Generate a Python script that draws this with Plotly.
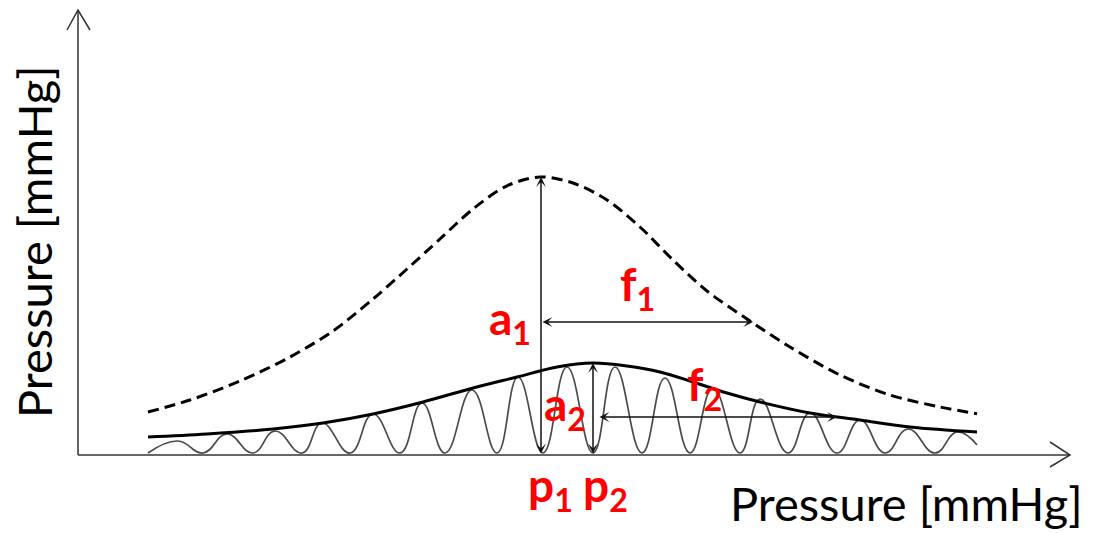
import plotly.graph_objects as go

# Cuff pressure samples (mmHg) and the two envelopes
dashed_x = [14, 22.4, 32.4, 42.4, 51, 59, 65.8, 72.4, 79, 85.8, 92.4, 99, 105.8,
            112.4, 119, 125.8, 134.4, 142.4, 152.4, 162.4, 172.4, 179.8]
dashed_y = [10.75, 13.75, 18.5, 24.5, 31, 39, 46.5, 54, 61.5, 67.3, 69.5, 68,
            63.75, 57, 48.75, 41, 33.5, 27, 20, 15, 12, 10.3]

envelope_x = [14, 25.8, 39, 49, 59, 69, 79, 87.8, 95.8, 103, 109.8, 116.4, 123,
              129.8, 136.4, 146.4, 156.4, 166.4, 179.8]
envelope_y = [4.5, 5.25, 6.5, 8, 10.25, 13.25, 16.75, 19.5, 22, 23, 22.25, 20.75,
              18.25, 15.5, 13.25, 10.5, 8.75, 7, 5.75]

# Oscillation extrema (alternating troughs and peaks)
osc_x = [14, 20, 25, 29.8, 35, 39.4, 44.8, 48.8, 54.4, 59, 64.4, 68.8, 73.4, 78.8,
         83.8, 88, 93, 97.8, 103, 107.4, 112.8, 117.4, 122.4, 127, 132.4, 136.4,
         142, 146.4, 151.8, 156.4, 161.4, 166, 171.4, 175.8, 179.8]
osc_y = [0.5, 3.5, 0.5, 5.25, 0.5, 6, 0.5, 8, 0.5, 10.25, 0.5, 13, 0.5, 16.25,
         0.5, 19.5, 0.5, 22, 0.5, 22, 0.5, 19.25, 0.5, 16.75, 0.5, 14, 0.5, 10.5,
         0.5, 8.75, 0.5, 6.5, 0.5, 5.75, 2.5]

# Characteristic points
p1, a1 = 92.6, 69.5          # peak of the dashed curve
f1, f1_level = 42.4, 33.25   # width arrow of the dashed curve
p2, a2 = 103, 23             # peak of the oscillation envelope
f2_start, f2_end, f2_level = 104, 151.8, 9.5

x_top, y_top = 198.4, 111.25  # axis arrow tips

fig = go.Figure()

fig.add_trace(go.Scatter(x=osc_x, y=osc_y, mode="lines",
                         line=dict(color="#4a4a4a", width=1.7, shape="spline", smoothing=1.3),
                         hoverinfo="skip"))
fig.add_trace(go.Scatter(x=envelope_x, y=envelope_y, mode="lines",
                         line=dict(color="#000000", width=3, shape="spline", smoothing=1.0),
                         hoverinfo="skip"))
fig.add_trace(go.Scatter(x=dashed_x, y=dashed_y, mode="lines",
                         line=dict(color="#000000", width=3, dash="11px,6px",
                                   shape="spline", smoothing=0.9),
                         hoverinfo="skip"))

axis_col = "#333333"
shapes = [
    dict(type="line", x0=0, y0=0, x1=0, y1=y_top, line=dict(color=axis_col, width=1.5)),
    dict(type="line", x0=0, y0=0, x1=x_top, y1=0, line=dict(color=axis_col, width=1.5)),
    dict(type="path", path=f"M -2.2,{y_top - 5} L 0,{y_top} L 2.4,{y_top - 5}",
         line=dict(color=axis_col, width=1.5)),
    dict(type="path", path=f"M {x_top - 4},3.25 L {x_top},0 L {x_top - 4},-3",
         line=dict(color=axis_col, width=1.5)),
]

annotations = []


def double_arrow(x0, y0, x1, y1):
    annotations.append(dict(x=x1, y=y1, ax=x0, ay=y0, xref="x", yref="y",
                            axref="x", ayref="y", text="", showarrow=True,
                            arrowside="end+start", arrowhead=3, startarrowhead=3,
                            arrowsize=1.1, startarrowsize=1.1, arrowwidth=1.5,
                            arrowcolor="#111111"))


double_arrow(p1, 0, p1, a1)
double_arrow(p1, f1_level, p1 + f1, f1_level)
double_arrow(p2, 0, p2, a2)
double_arrow(f2_start, f2_level, f2_end, f2_level)

red = dict(family="Lato", size=46, color="#ff0000")


def label(text, x, y, xref="x", yref="y"):
    annotations.append(dict(x=x, y=y, xref=xref, yref=yref, text=f"<b>{text}</b>",
                            showarrow=False, font=red, xanchor="center", yanchor="middle"))


label("a<sub>1</sub>", 86.4, 33.5)
label("f<sub>1</sub>", 111.8, 42)
label("a<sub>2</sub>", 97.4, 12)
label("f<sub>2</sub>", 125.2, 17)
label("p<sub>1</sub>", p1 + 1.8, -0.028, yref="paper")
label("p<sub>2</sub>", p2 + 2.4, -0.028, yref="paper")

title_font = dict(family="Lato", size=47, color="#000000")
annotations.append(dict(x=0.832, y=-0.0596, xref="paper", yref="paper",
                        text="Pressure [mmHg]", showarrow=False, font=title_font,
                        xanchor="center", yanchor="middle"))
annotations.append(dict(x=-0.0235, y=0.496, xref="paper", yref="paper",
                        text="Pressure [mmHg]", showarrow=False, font=title_font,
                        textangle=-90, xanchor="center", yanchor="middle"))

fig.update_layout(
    width=1099, height=533,
    margin=dict(l=58, r=21, t=5, b=58),
    paper_bgcolor="white", plot_bgcolor="white",
    showlegend=False,
    xaxis=dict(range=[-4, 200], visible=False, fixedrange=True),
    yaxis=dict(range=[-5, 112.5], visible=False, fixedrange=True),
    shapes=shapes,
    annotations=annotations,
)

fig.write_html("out.html", config={"displayModeBar": False})
